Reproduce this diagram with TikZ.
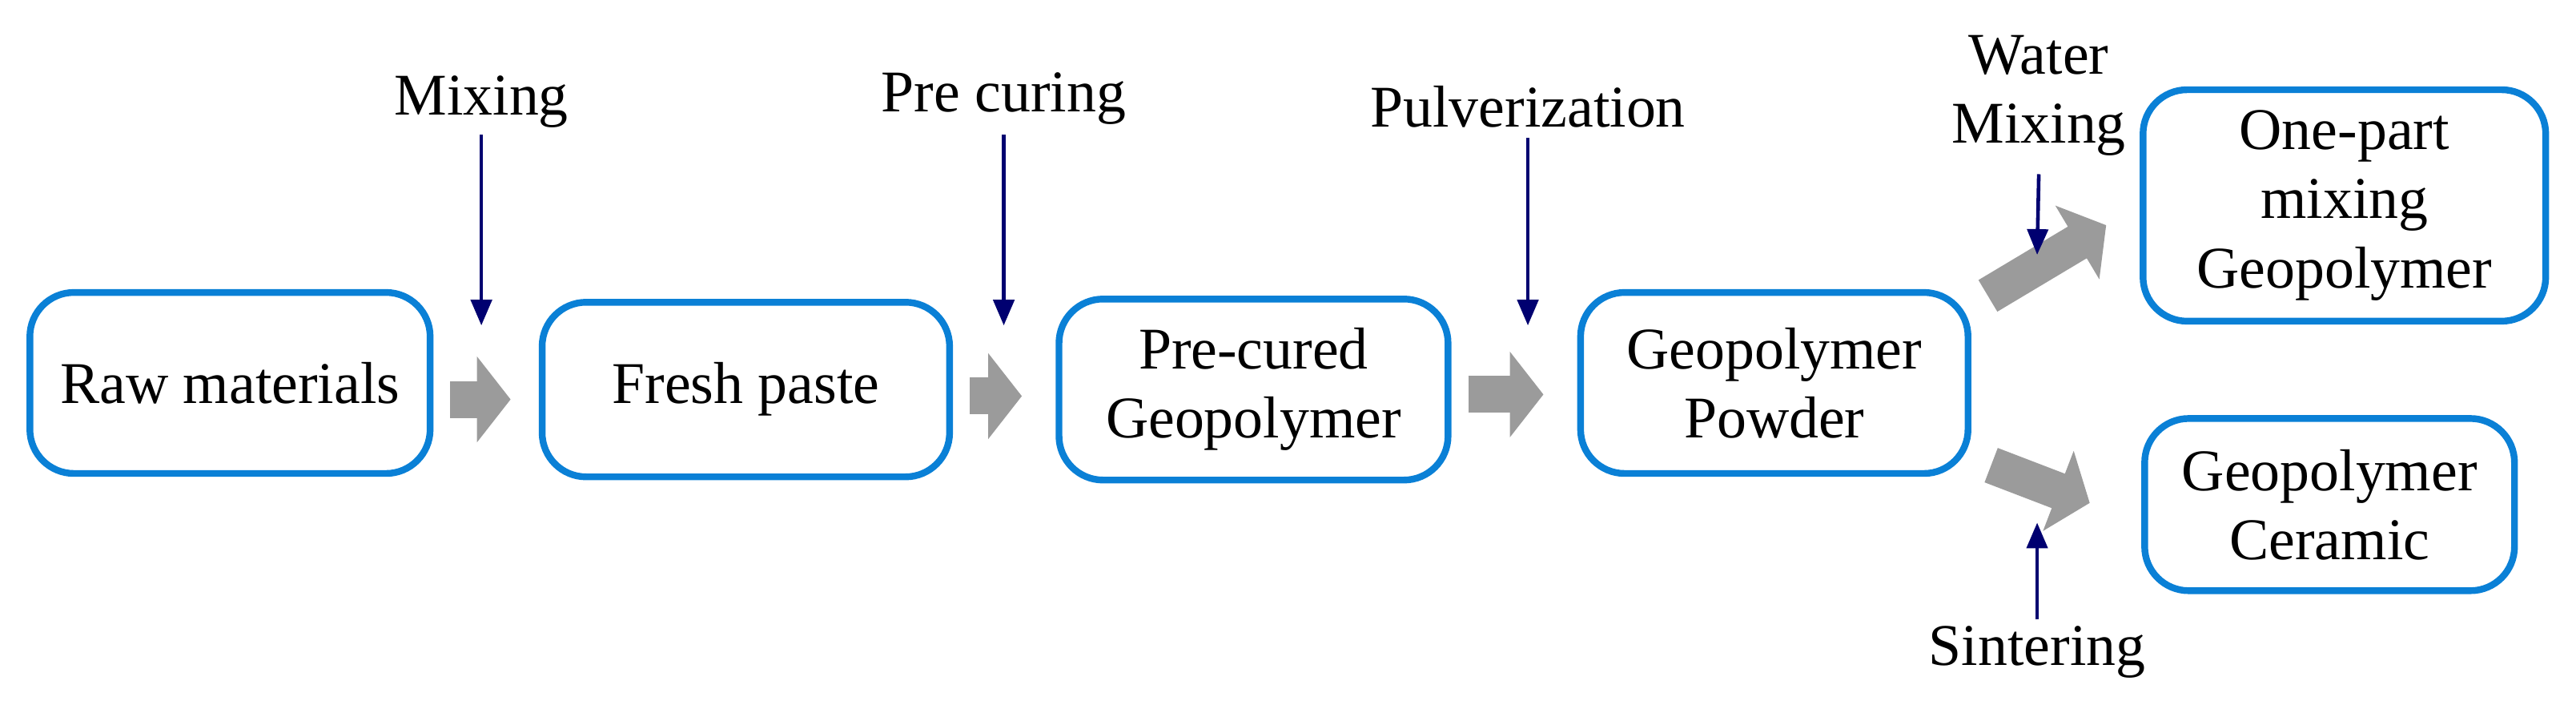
\documentclass[tikz,border=0pt]{standalone}
\usepackage{fontspec}
\setmainfont{Liberation Serif}
\usetikzlibrary{arrows.meta,positioning}
\definecolor{boxblue}{HTML}{0A80D6}
\definecolor{stepnavy}{HTML}{000070}
\definecolor{flowgray}{HTML}{9B9B9B}
\begin{document}
\begin{tikzpicture}[
  x=0.02052cm,y=-0.02052cm,
  box/.style={draw=boxblue,line width=2.4pt,rounded corners=0.55cm,align=center,inner sep=0pt,font=\fontsize{21}{24.5}\selectfont},
  stage/.style={font=\fontsize{21}{24.5}\selectfont,align=center,inner sep=0pt},
  flow/.style={-{Triangle[length=0.42cm,width=1.05cm]},line width=0.46cm,flowgray},
  sarr/.style={-{Triangle[length=0.32cm,width=0.26cm]},line width=1.3pt,stepnavy}
]
  \useasboundingbox (0,0) rectangle (1568,436);
  % process boxes
  \node[box,minimum width=5.0cm,minimum height=2.26cm] (raw) at (140,233) {Raw materials};
  \node[box,minimum width=5.09cm,minimum height=2.18cm] (fresh) at (454,237) {Fresh paste};
  \node[box,minimum width=4.86cm,minimum height=2.26cm] (precured) at (763,237) {Pre-cured\\Geopolymer};
  \node[box,minimum width=4.84cm,minimum height=2.26cm] (powder) at (1080,233) {Geopolymer\\Powder};
  \node[box,minimum width=5.03cm,minimum height=2.89cm] (onepart) at (1427,125) {One-part\\mixing\\Geopolymer};
  \node[box,minimum width=4.62cm,minimum height=2.15cm] (ceramic) at (1418,307) {Geopolymer\\Ceramic};
  % gray flow arrows
  \draw[flow,shorten <=6,shorten >=10] (raw.east |- 0,243) coordinate (f1a) -- (f1a -| fresh.west);
  \draw[flow,shorten <=6,shorten >=12] (fresh.east |- 0,241) coordinate (f2a) -- (f2a -| precured.west);
  \draw[flow,shorten <=6,shorten >=12] (precured.east |- 0,240) coordinate (f3a) -- (f3a -| powder.west);
  \coordinate (u1) at (1210,180);
  \coordinate (u2) at (1282,137);
  \draw[flow] (u1) -- (u2);
  \coordinate (d1) at (1212,283);
  \coordinate (d2) at (1272,306);
  \draw[flow] (d1) -- (d2);
  % step labels
  \node[stage] (mixing) at (293,62) {Mixing};
  \node[stage] (precuring) at (611,60) {Pre curing};
  \node[stage] (pulver) at (930,65) {Pulverization};
  \node[stage] (water) at (1241,58) {Water\\Mixing};
  \node[stage] (sinter) at (1240,397) {Sintering};
  \coordinate (mixend) at (293,198);
  \coordinate (precend) at (611,198);
  \coordinate (pulvend) at (930,198);
  \coordinate (waterend) at (1240,155);
  \coordinate (sinterend) at (1240,318);
  \draw[sarr] (mixing.south |- 0,82) -- (mixend);
  \draw[sarr] (precuring.south |- 0,82) -- (precend);
  \draw[sarr] (pulver.south |- 0,84) -- (pulvend);
  \draw[sarr] (water.south |- 0,106) -- (waterend);
  \draw[sarr] (sinter.north |- 0,377) -- (sinterend);
\end{tikzpicture}
\end{document}
